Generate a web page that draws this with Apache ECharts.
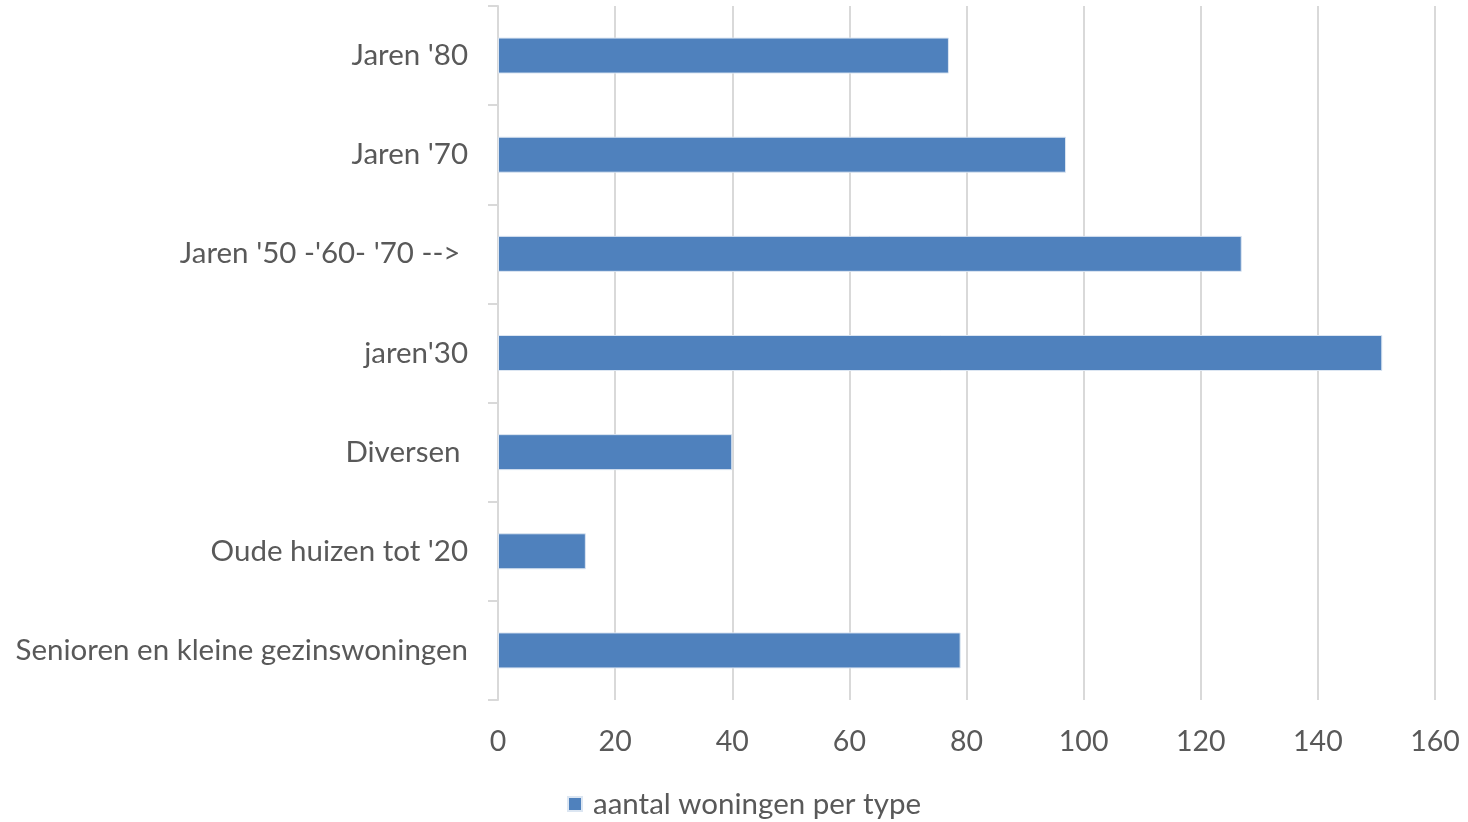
<!DOCTYPE html>
<html><head><meta charset="utf-8">
<script src="https://cdn.jsdelivr.net/npm/echarts@6/dist/echarts.min.js"></script>
<style>html,body{margin:0;padding:0;background:#fff}#c{width:1468px;height:822px}</style>
</head><body><div id="c"></div>
<script>
const categories = ["Senioren en kleine gezinswoningen", "Oude huizen tot '20", "Diversen ", "jaren'30", "Jaren '50 -'60- '70 --> ", "Jaren '70", "Jaren '80"];
const values = [79, 15, 40, 151, 127, 97, 77];
const seriesName = "aantal woningen per type";
const xTicks = { min: 0, max: 160, interval: 20 };

const chart = echarts.init(document.getElementById('c'));
const font = 'Lato, "Open Sans", sans-serif';
chart.setOption({
  animation: false,
  grid: { left: 498, right: 33, top: 6, bottom: 122, containLabel: false },
  legend: {
    data: [seriesName], bottom: -2, left: 562,
    itemWidth: 14, itemHeight: 14, icon: 'rect', itemGap: 10,
    textStyle: { fontFamily: font, fontSize: 29.5, color: '#595959', padding: [0, 0, 0, 6] }
  },
  xAxis: {
    type: 'value', min: xTicks.min, max: xTicks.max, interval: xTicks.interval,
    axisLine: { show: false }, axisTick: { show: false },
    axisLabel: { fontFamily: font, fontSize: 28.5, color: '#595959', margin: 27 },
    splitLine: { show: true, lineStyle: { color: '#d9d9d9', width: 2 } }
  },
  yAxis: {
    type: 'category', data: categories,
    axisLine: { show: true, lineStyle: { color: '#d9d9d9', width: 2 } },
    axisTick: { show: true, length: 10, lineStyle: { color: '#d9d9d9', width: 2 } },
    axisLabel: { fontFamily: font, fontSize: 29.5, color: '#595959', margin: 30 }
  },
  series: [{
    name: seriesName, type: 'bar', data: values, barWidth: 36,
    itemStyle: { color: '#4f81bd', borderColor: '#dce6f2', borderWidth: 1 }
  }]
});
</script></body></html>
